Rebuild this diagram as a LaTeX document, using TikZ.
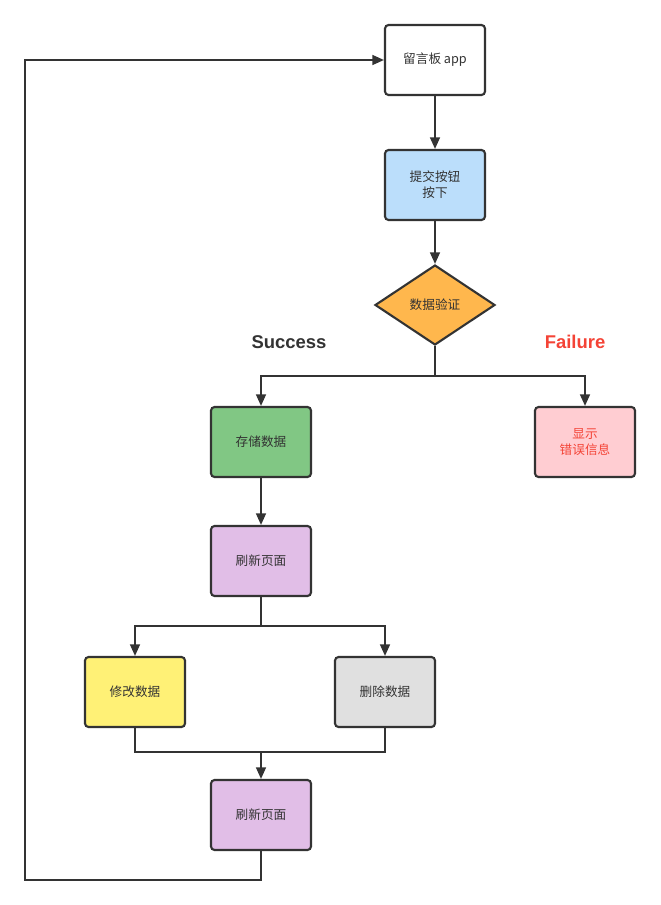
\documentclass[tikz,border=0pt]{standalone}
\usepackage{fontspec}
\setmainfont{Noto Sans CJK SC}
\setsansfont{Liberation Sans}
\usepackage{xcolor}
\usepackage{tikz}
\usetikzlibrary{shapes.geometric,arrows.meta}

\definecolor{ink}{HTML}{333333}
\definecolor{failred}{HTML}{F44336}
\definecolor{boxblue}{HTML}{BBDEFB}
\definecolor{boxorange}{HTML}{FFB74D}
\definecolor{boxgreen}{HTML}{81C784}
\definecolor{boxpink}{HTML}{FFCDD2}
\definecolor{boxpurple}{HTML}{E1BEE7}
\definecolor{boxyellow}{HTML}{FFF176}
\definecolor{boxgray}{HTML}{E0E0E0}

\begin{document}
\begin{tikzpicture}[x=0.02cm,y=-0.02cm,
    box/.style={draw=ink,line width=1.2pt,rounded corners=2pt,minimum width=2cm,
      minimum height=1.4cm,align=center,text=ink,font=\fontsize{7.2}{9}\selectfont},
    decision/.style={diamond,draw=ink,line width=1.2pt,fill=boxorange,inner sep=0pt,
      minimum width=2.4cm,minimum height=1.6cm,aspect=1.5,text=ink,font=\fontsize{7.2}{9}\selectfont},
    link/.style={draw=ink,line width=1.15pt},
    arr/.style={link,-{Triangle[length=6.6pt,width=5.6pt]}},
    branch/.style={font=\sffamily\bfseries\fontsize{10.5}{12}\selectfont}]
  \useasboundingbox (0,0) rectangle (660,905);

  % main column
  \node[box,fill=white] (app) at (435,60) {留言板 app};
  \node[box,fill=boxblue] (submit) at (435,185) {提交按钮\\按下};
  \node[decision] (check) at (435,305) {数据验证};

  % branches
  \node[branch,text=ink] (succ) at (289,342) {Success};
  \node[branch,text=failred] (fail) at (575,342) {Failure};
  \node[box,fill=boxgreen] (store) at (261,442) {存储数据};
  \node[box,fill=boxpink,text=failred] (errmsg) at (585,442) {显示\\错误信息};
  \node[box,fill=boxpurple] (refresh) at (261,561) {刷新页面};
  \node[box,fill=boxyellow] (edit) at (135,692) {修改数据};
  \node[box,fill=boxgray] (del) at (385,692) {删除数据};
  \node[box,fill=boxpurple] (refreshb) at (261,815) {刷新页面};

  \coordinate (split1) at (435,376);
  \coordinate (split2) at (261,626);
  \coordinate (join) at (261,752);
  \coordinate (loopa) at (261,880);
  \coordinate (loopb) at (25,880);
  \coordinate (loopc) at (25,60);

  \draw[arr] (app) -- (submit);
  \draw[arr] (submit) -- (check);
  \draw[link] (check.south) -- (split1);
  \draw[arr] (split1) -| (store.north);
  \draw[arr] (split1) -| (errmsg.north);
  \draw[arr] (store) -- (refresh);
  \draw[link] (refresh.south) -- (split2);
  \draw[arr] (split2) -| (edit.north);
  \draw[arr] (split2) -| (del.north);
  \draw[link] (edit.south) |- (join);
  \draw[link] (del.south) |- (join);
  \draw[arr] (join) -- (refreshb.north);
  \draw[arr] (refreshb.south) -- (loopa) -- (loopb) -- (loopc) -- (app.west);
\end{tikzpicture}
\end{document}
